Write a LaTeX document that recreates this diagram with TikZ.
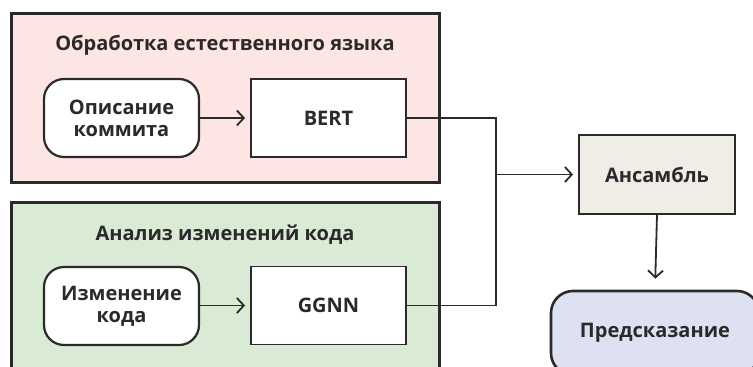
\documentclass[tikz,border=0pt]{standalone}
\usepackage{fontspec}
\setmainfont{Open Sans}
\usetikzlibrary{arrows.meta}
\definecolor{edge}{HTML}{2B2A2A}
\definecolor{nlpfill}{HTML}{FCE5E2}
\definecolor{codefill}{HTML}{D9EAD5}
\definecolor{ensfill}{HTML}{F0ECE6}
\definecolor{predfill}{HTML}{DEE1F2}
\tikzset{
  x=1pt, y=-1pt,
  txt/.style={font=\fontsize{20}{22}\selectfont\bfseries, text=edge, align=center},
  group/.style={draw=edge, line width=3pt, inner sep=0pt},
  inbox/.style={txt, draw=edge, line width=2.2pt, rounded corners=20pt, fill=white,
    minimum width=155pt, minimum height=78pt, inner sep=0pt},
  model/.style={txt, draw=edge, line width=1.8pt, fill=white,
    minimum width=155pt, minimum height=78pt, inner sep=0pt},
  conn/.style={draw=edge, line width=1.8pt},
  arr/.style={conn, -{Straight Barb[length=7pt, width=15pt, line width=1.8pt]}},
}
\begin{document}
\begin{tikzpicture}
\useasboundingbox (0,0) rectangle (753,367);
% groups
\node[group, fill=nlpfill, minimum width=428pt, minimum height=169pt] (nlp) at (225,97.5) {};
\node[group, fill=codefill, minimum width=428pt, minimum height=180pt] (code) at (225,292) {};
\node[txt] (nlptitle) at (225,45) {Обработка естественного языка};
\node[txt] (codetitle) at (225,235) {Анализ изменений кода};
% inputs and models
\node[inbox] (msg) at (121.5,118) {Описание\\коммита};
\node[model] (bert) at (328.5,118) {BERT};
\node[inbox] (diff) at (121.5,306) {Изменение\\кода};
\node[model] (ggnn) at (328.5,305.5) {GGNN};
% ensemble and prediction
\node[model, fill=ensfill, minimum width=156pt, minimum height=79pt] (ens) at (657,174.5) {Ансамбль};
\node[txt, draw=edge, line width=2.6pt, rounded corners=22pt, fill=predfill,
  minimum width=208pt, minimum height=84pt, inner sep=0pt] (pred) at (655,333) {Предсказание};
% connectors
\coordinate (join) at (496,174.5);
\draw[arr, shorten >=5pt] (msg) -- (bert);
\draw[arr, shorten >=5pt] (diff.east |- ggnn) -- (ggnn);
\draw[conn] (bert.east) -| (join) |- (ggnn.east);
\draw[arr, shorten >=5pt] (join) -- (ens.west);
\draw[arr, shorten >=11pt] (ens.south) -- (pred.north);
\end{tikzpicture}
\end{document}
